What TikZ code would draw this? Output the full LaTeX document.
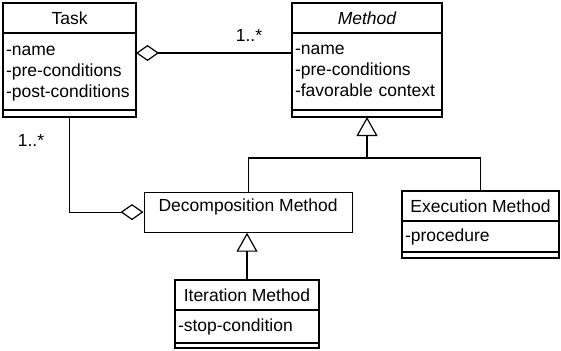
\documentclass[tikz,border=0pt]{standalone}
\usepackage{fontspec}
\setmainfont{Liberation Sans}
\usetikzlibrary{arrows.meta, positioning}

\tikzset{
    umlfont/.style={font=\fontsize{17.5pt}{21pt}\selectfont},
    classtitle/.style={draw, umlfont, outer sep=0pt, inner sep=2pt,
        minimum width=#1, minimum height=30pt},
    classattr/.style={draw, umlfont, outer sep=0pt, inner xsep=3pt, inner ysep=2pt,
        align=left, text width=#1},
    classops/.style={draw, outer sep=0pt, inner sep=0pt, minimum width=#1},
    mult/.style={umlfont, inner sep=1pt},
    aggr/.style={{Diamond[open, length=23pt, width=16pt]}-},
    gen/.style={-{Triangle[open, length=19pt, width=21pt]}}
}

\begin{document}
\begin{tikzpicture}[x=1pt, y=1pt, line width=1.2pt]
        \useasboundingbox (0,0) rectangle (561,-350);

        % Klassen
        % Task
        \node[classtitle=133pt, anchor=north west] (tasktitle) at (3,-3) {Task};
        \node[classattr=127pt, minimum height=77pt, below=0pt of tasktitle] (taskattr)
            {\rule{0pt}{21pt}-name\\-pre-conditions\\-post-conditions\rule[-10pt]{0pt}{10pt}};
        \node[classops=133pt, minimum height=7pt, below=0pt of taskattr] (taskops) {};

        % Method (abstract)
        \node[classtitle=150pt, anchor=north west, font=\fontsize{17.5pt}{21pt}\selectfont\itshape]
            (methtitle) at (292,-3) {Method};
        \node[classattr=144pt, minimum height=77pt, below=0pt of methtitle] (methattr)
            {\rule{0pt}{20pt}-name\\-pre-conditions\\-favorable context\rule[-11pt]{0pt}{11pt}};
        \node[classops=150pt, minimum height=7pt, below=0pt of methattr] (methops) {};

        % Decomposition Method
        \node[draw, umlfont, anchor=north west, minimum width=208pt, minimum height=40pt,
            inner ysep=3pt, text height=16pt, text depth=18pt] (decomp) at (143.5,-191.5)
            {Decomposition Method};

        % Execution Method
        \node[classtitle=157pt, anchor=north west] (exectitle) at (402,-191) {Execution Method};
        \node[classattr=151pt, minimum height=31pt, below=0pt of exectitle] (execattr)
            {-procedure};
        \node[classops=157pt, minimum height=6pt, below=0pt of execattr] (execops) {};

        % Iteration Method
        \node[classtitle=144pt, anchor=north west] (itertitle) at (175,-280) {Iteration Method};
        \node[classattr=138pt, minimum height=33pt, below=0pt of itertitle] (iterattr)
            {-stop-condition};
        \node[classops=144pt, minimum height=5pt, below=0pt of iterattr] (iterops) {};

        % Aggregaties
        \draw[aggr] ([yshift=-20pt]taskattr.north east) -- ([yshift=-20pt]methattr.north west);
        \node[mult] (multmeth) at (249,-35) {1..*};
        \draw[aggr] (decomp.west) -| (taskops.south);
        \node[mult] (multtask) at (31,-140) {1..*};

        % Generalisaties
        \coordinate (genjoin) at (367,-158);
        \draw[gen] (genjoin) -- (methops.south);
        \draw (decomp.north) |- (genjoin) -| (exectitle.north);
        \draw[gen] (itertitle.north) -- (itertitle.north |- decomp.south);

    \end{tikzpicture}
\end{document}
